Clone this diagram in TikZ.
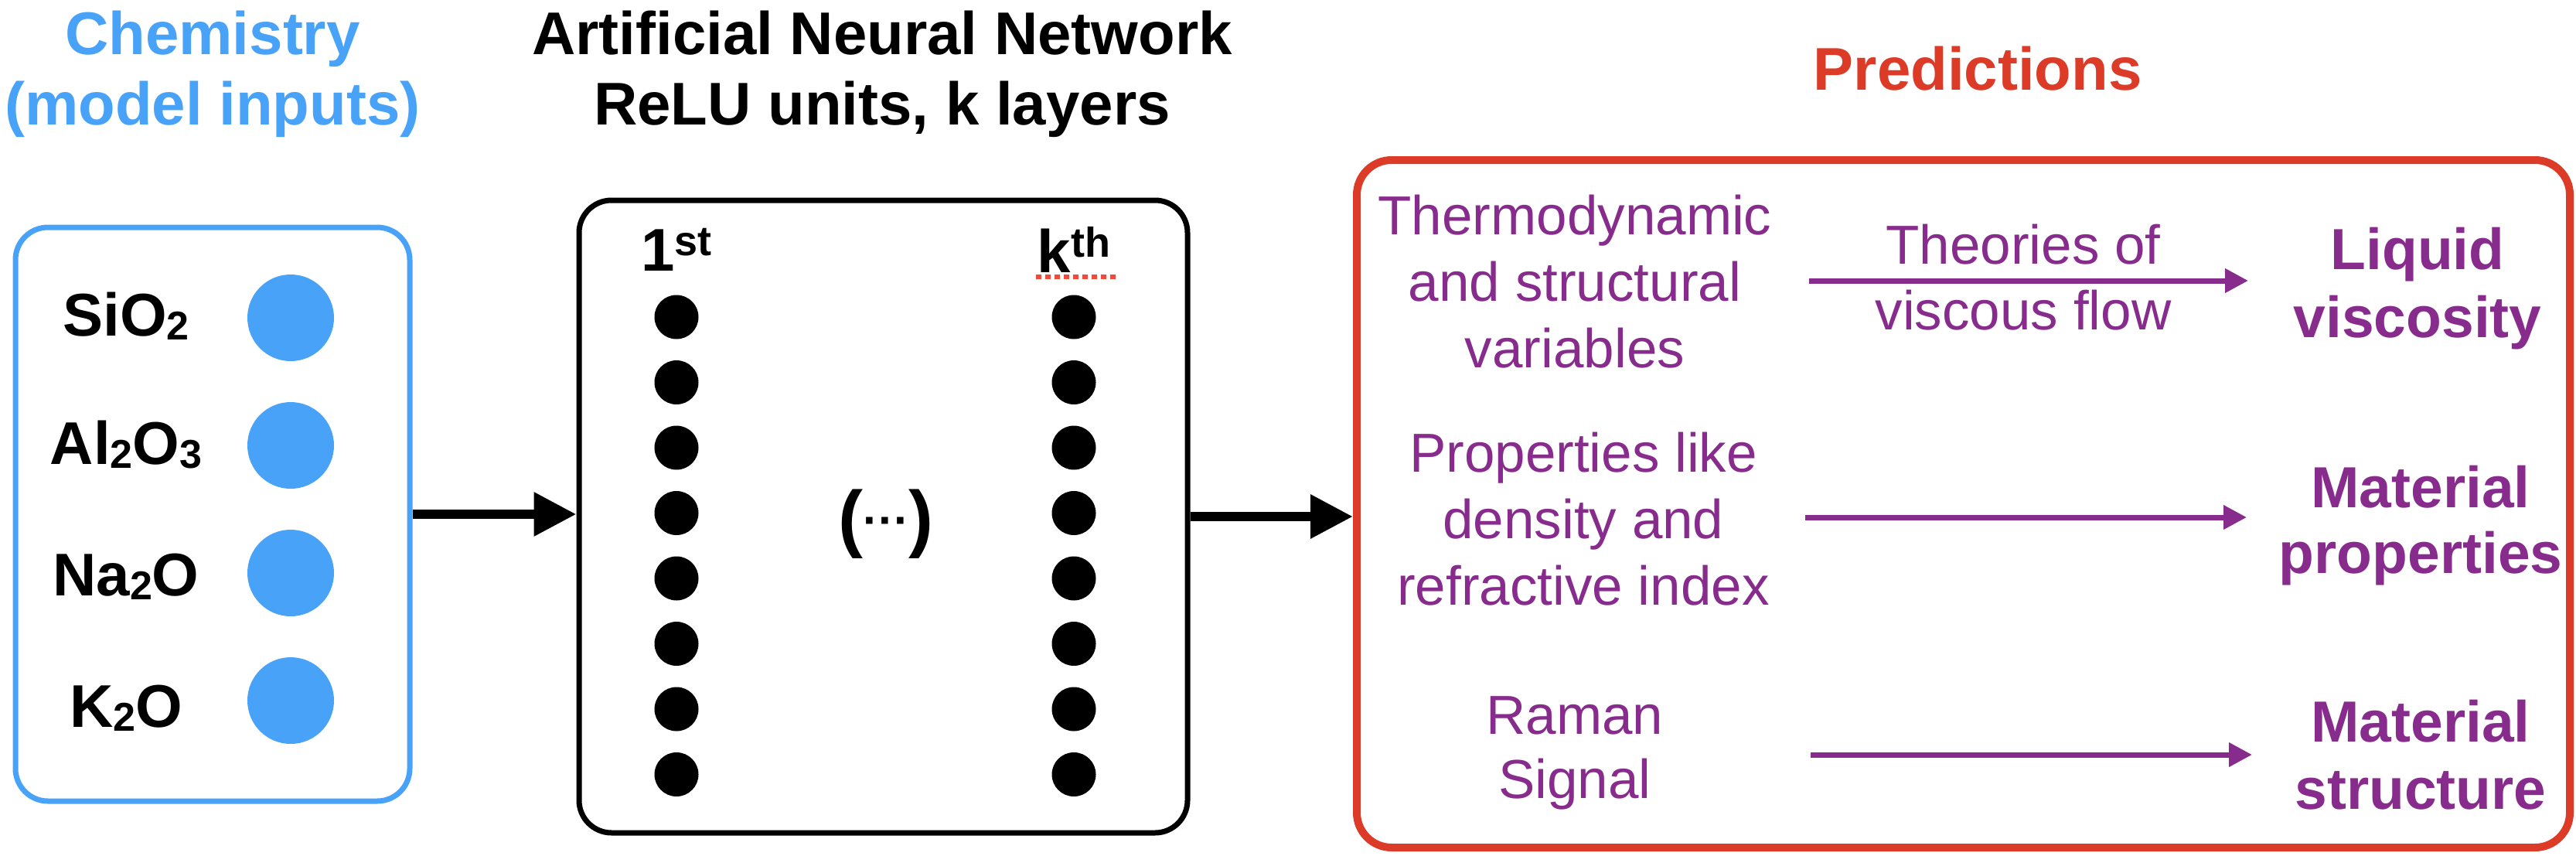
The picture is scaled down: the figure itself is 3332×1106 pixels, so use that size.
\documentclass[tikz,border=0pt]{standalone}
\usepackage{fontspec}
\setmainfont{Liberation Sans}
\usetikzlibrary{arrows.meta}
\definecolor{cblue}{RGB}{72,162,248}
\definecolor{cred}{RGB}{220,59,39}
\definecolor{cpurple}{RGB}{135,44,141}
\definecolor{cdotred}{RGB}{235,76,60}
\newcommand\stk[1]{\vtop{\halign{\hfil##\hfil\cr#1\crcr}}}
\newcommand\sbt[1]{\raisebox{-5pt}{\fontsize{52}{52}\selectfont #1}}
\newcommand\spt[1]{\raisebox{20pt}{\fontsize{54}{54}\selectfont #1}}
\begin{document}
\begin{tikzpicture}[x=1pt,y=-1pt,
  hdr/.style={font=\bfseries\fontsize{78}{91}\selectfont, inner sep=0pt, anchor=base},
  lab/.style={font=\bfseries\fontsize{78}{91}\selectfont, inner sep=0pt, anchor=base},
  frame/.style={draw, rectangle, inner sep=0pt},
  incirc/.style={circle, fill=cblue, minimum size=112pt, inner sep=0pt},
  ndot/.style={circle, fill=black, minimum size=57pt, inner sep=0pt},
  barrow/.style={line width=12.5pt, -{Triangle[length=55pt,width=54pt]}},
  parrow/.style={color=cpurple, line width=7pt, -{Triangle[length=30pt,width=30pt]}},
  ptxt/.style={text=cpurple, font=\fontsize{71}{86}\selectfont, inner sep=0pt, anchor=base},
  pbold/.style={text=cpurple, font=\bfseries\fontsize{75}{87}\selectfont, inner sep=0pt, anchor=base}
]
\useasboundingbox (0,0) rectangle (3332,1106);

% headers
\node[hdr, text=cblue] (chem) at (275,70) {\stk{Chemistry\cr(model inputs)}};
\node[hdr] (ann) at (1141,70) {\stk{Artificial Neural Network\cr ReLU units, k layers}};
\node[hdr, text=cred] (pred) at (2558,116) {Predictions};

% frames
\node[frame, draw=cblue, line width=7pt, rounded corners=42pt, minimum width=510pt, minimum height=742pt] (inbox) at (275,665) {};
\node[frame, draw=black, line width=7pt, rounded corners=42pt, minimum width=787pt, minimum height=818pt] (nnbox) at (1142.5,668) {};
\node[frame, draw=cred, line width=10pt, rounded corners=45pt, minimum width=1569pt, minimum height=889pt] (predbox) at (2539.5,651.5) {};

% inputs
\node[incirc] (c1) at (376,411) {};
\node[incirc] (c2) at (376,576) {};
\node[incirc] (c3) at (376,741) {};
\node[incirc] (c4) at (376,906) {};
\node[lab] (l1) at (163,434) {SiO\sbt{2}};
\node[lab] (l2) at (163,600) {Al\sbt{2}O\sbt{3}};
\node[lab] (l3) at (163,770) {Na\sbt{2}O};
\node[lab] (l4) at (163,940) {K\sbt{2}O};

% network
\node[hdr] (first) at (875,350) {1\spt{st}};
\node[hdr] (kth) at (1389,352) {k\spt{th}};
\draw[cdotred, line width=5.5pt, dash pattern=on 7pt off 5pt] ([xshift=-2pt,yshift=-6pt]kth.base west) -- ([xshift=8pt,yshift=-6pt]kth.base east);
\foreach \i in {0,...,7} {
  \node[ndot] (a\i) at (875,{410+84.5*\i}) {};
  \node[ndot] (b\i) at (1389,{410+84.5*\i}) {};
}
\node[inner sep=0pt, anchor=base] (ell) at (1146,702) {\bfseries\fontsize{96}{96}\selectfont(\raisebox{9pt}{\fontsize{60}{60}\selectfont ···})};

% main arrows
\draw[barrow] (inbox.east) -- (inbox.east -| nnbox.west);
\draw[barrow] (nnbox.east) -- (nnbox.east -| predbox.west);

% predictions
\node[ptxt] (t1) at (2037,303) {\stk{Thermodynamic\cr and structural\cr variables}};
\node[ptxt, font=\fontsize{71}{85}\selectfont] (th) at (2617,341) {\stk{Theories of\cr viscous flow}};
\node[pbold, font=\bfseries\fontsize{75}{88}\selectfont] (r1) at (3127,348) {\stk{Liquid\cr viscosity}};
\node[ptxt] (t2) at (2048,610) {\stk{Properties like\cr density and\cr refractive index}};
\node[pbold, font=\bfseries\fontsize{75}{85}\selectfont] (r2) at (3131,656) {\stk{Material\cr properties}};
\node[ptxt, font=\fontsize{71}{83}\selectfont] (t3) at (2037,949) {\stk{Raman\cr Signal}};
\node[pbold] (r3) at (3131,959) {\stk{Material\cr structure}};

\coordinate (p1s) at (2340,363);
\coordinate (p1e) at (2908,363);
\coordinate (p2s) at (2335,669);
\coordinate (p2e) at (2906,669);
\coordinate (p3s) at (2342,976);
\coordinate (p3e) at (2913,976);
\draw[parrow] (p1s) -- (p1e);
\draw[parrow] (p2s) -- (p2e);
\draw[parrow] (p3s) -- (p3e);
\end{tikzpicture}
\end{document}
